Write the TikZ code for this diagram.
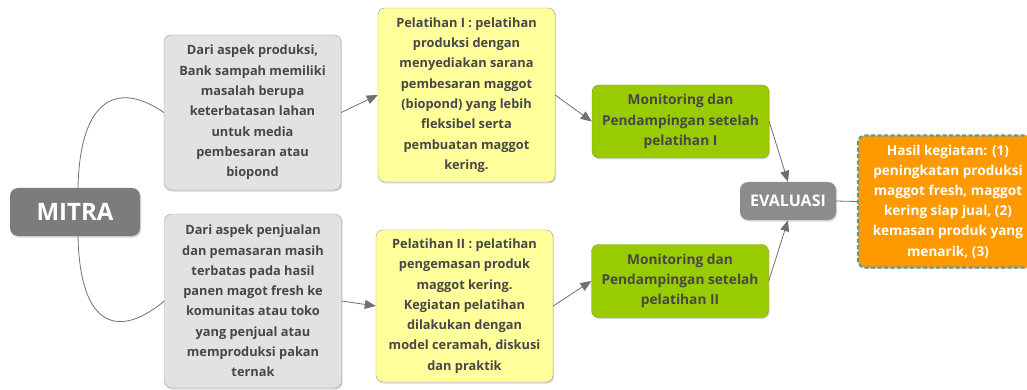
\documentclass[tikz,border=0pt]{standalone}
\usepackage{fontspec}
\setmainfont{Open Sans}
\usetikzlibrary{arrows.meta,positioning,shadows}
\definecolor{tulisan}{HTML}{474747}
\definecolor{garis}{HTML}{707070}
\definecolor{tepi}{HTML}{9A9A9A}
\definecolor{abu}{HTML}{E2E2E2}
\definecolor{kuning}{HTML}{FFFF9C}
\definecolor{hijau}{HTML}{99CC00}
\definecolor{oranye}{HTML}{FF9900}
\definecolor{tosca}{HTML}{5A9A94}
\definecolor{abutua}{HTML}{7C7C7C}
\definecolor{abueval}{HTML}{8C8C8C}

\begin{document}
\begin{tikzpicture}[x=1pt,y=-1pt,
  box/.style={rectangle,draw=tepi,rounded corners=7pt,align=center,inner sep=2pt,
    font=\bfseries\fontsize{12.8}{20.3}\selectfont,text=tulisan,
    drop shadow={shadow xshift=1.2pt,shadow yshift=-1.5pt,opacity=0.3}},
  masalah/.style={box,fill=abu,minimum width=177pt},
  latih/.style={box,fill=kuning,minimum width=177pt},
  monev/.style={box,fill=hijau,draw=hijau!80!black,minimum width=177pt,minimum height=73pt,
    font=\bfseries\fontsize{13.7}{20.4}\selectfont},
  pusat/.style={box,draw=none,text=white,rounded corners=8pt},
  hasil/.style={box,fill=oranye,draw=tosca,dashed,dash pattern=on 4pt off 2.5pt,line width=2.2pt,
    text=white,minimum width=180pt,minimum height=132pt,font=\bfseries\fontsize{13.6}{20.2}\selectfont},
  link/.style={-{Triangle[length=11pt,width=9pt]},draw=garis,line width=0.8pt},
  cabang/.style={draw=garis,line width=0.8pt}]
\useasboundingbox (0,0) rectangle (1027,390);

% akar
\node[pusat,fill=abutua,minimum width=130pt,minimum height=48pt,font=\bfseries\fontsize{24}{26}\selectfont] (mitra) at (75,212) {MITRA};

% masalah mitra
\node[masalah,minimum height=155pt] (prod) at (252.5,112.5) {Dari aspek produksi,\\Bank sampah memiliki\\masalah berupa\\keterbatasan lahan\\untuk media\\pembesaran atau\\biopond};
\node[masalah,minimum height=174pt] (jual) at (253,301) {Dari aspek penjualan\\dan pemasaran masih\\terbatas pada hasil\\panen magot fresh ke\\komunitas atau toko\\yang penjual atau\\memproduksi pakan\\ternak};

% pelatihan
\node[latih,minimum height=174pt] (latih1) at (466.5,95) {Pelatihan I : pelatihan\\produksi dengan\\menyediakan sarana\\pembesaran maggot\\(biopond) yang lebih\\fleksibel serta\\pembuatan maggot\\kering.};
\node[latih,minimum height=152pt] (latih2) at (464.5,306) {Pelatihan II : pelatihan\\pengemasan produk\\maggot kering.\\Kegiatan pelatihan\\dilakukan dengan\\model ceramah, diskusi\\dan praktik};

% monitoring
\node[monev] (monev1) at (680.5,121.5) {Monitoring dan\\Pendampingan setelah\\pelatihan I};
\node[monev] (monev2) at (680,281) {Monitoring dan\\Pendampingan setelah\\pelatihan II};

% evaluasi dan hasil
\node[pusat,fill=abueval,minimum width=96pt,minimum height=38pt,font=\bfseries\fontsize{16}{18}\selectfont] (eval) at (788,201) {EVALUASI};
\node[hasil] (hasil) at (948,201.5) {Hasil kegiatan: (1)\\peningkatan produksi\\maggot fresh, maggot\\kering siap jual, (2)\\kemasan produk yang\\menarik, (3)};

% penghubung
\draw[cabang] ([xshift=3pt]mitra.north) .. controls (80,95) and (120,82) .. (prod.west);
\draw[cabang] ([xshift=3pt]mitra.south) .. controls (80,330) and (120,338) .. (jual.west);
\draw[link] (prod.east) -- (latih1.west);
\draw[link] (jual.east) -- (latih2.west);
\draw[link] (latih1.east) -- (monev1.west);
\draw[link] (latih2.east) -- (monev2.west);
\draw[link] (monev1.east) -- (eval.north);
\draw[link] (monev2.east) -- (eval.south);
\draw[cabang] (eval.east) -- (hasil.west);
\end{tikzpicture}
\end{document}
